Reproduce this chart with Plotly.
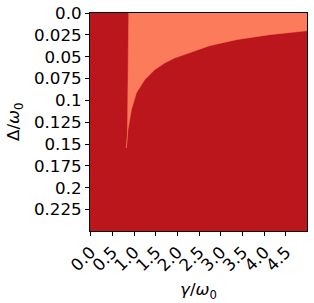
import plotly.graph_objects as go

# Boundary of the light (upper) region: gamma/omega0 vs Delta/omega0
left_edge_gamma = [0.876, 0.868, 0.859, 0.846, 0.822]
left_edge_delta = [0.0, 0.06, 0.1106, 0.141, 0.1526]
cusp_gamma = [0.822]
cusp_delta = [0.1545]
right_edge_gamma = [0.859, 0.938, 1.053, 1.244, 1.475, 1.705, 1.935, 2.281, 2.742, 3.357, 4.124, 4.984, 5.05]
right_edge_delta = [0.1335, 0.1106, 0.0915, 0.0763, 0.0649, 0.0572, 0.0515, 0.0458, 0.0374, 0.0305, 0.0248, 0.0203, 0.0200]
top_edge_gamma = [5.05, 0.876]
top_edge_delta = [-0.002, -0.002]

x_tickvals = [0.0, 0.5, 1.0, 1.5, 2.0, 2.5, 3.0, 3.5, 4.0, 4.5]
x_ticktext = ["0.0", "0.5", "1.0", "1.5", "2.0", "2.5", "3.0", "3.5", "4.0", "4.5"]
y_tickvals = [0.0, 0.025, 0.05, 0.075, 0.1, 0.125, 0.15, 0.175, 0.2, 0.225]
y_ticktext = ["0.0", "0.025", "0.05", "0.075", "0.1", "0.125", "0.15", "0.175", "0.2", "0.225"]

DARK = "#bb161b"
LIGHT = "#fb7b5b"

poly_x = left_edge_gamma + cusp_gamma + right_edge_gamma + top_edge_gamma
poly_y = left_edge_delta + cusp_delta + right_edge_delta + top_edge_delta

fig = go.Figure()
fig.add_trace(go.Scatter(
    x=poly_x, y=poly_y, mode="lines", fill="toself",
    fillcolor=LIGHT, line=dict(color=LIGHT, width=0.5),
    hoverinfo="skip", showlegend=False,
))

font = dict(family="DejaVu Sans", size=16.7, color="black")
fig.update_layout(
    width=314, height=303,
    margin=dict(l=90, r=7, t=13, b=72),
    paper_bgcolor="white", plot_bgcolor=DARK,
    font=font, showlegend=False,
)
fig.update_xaxes(
    range=[-0.016, 4.984], tickvals=x_tickvals, ticktext=x_ticktext,
    tickangle=-45, ticks="outside", ticklen=4, tickcolor="black",
    showline=True, linecolor="black", linewidth=1, mirror=True,
    showgrid=False, zeroline=False, tickfont=font, automargin=False,
)
fig.update_yaxes(
    range=[0.2495, 0.0], tickvals=y_tickvals, ticktext=y_ticktext,
    ticks="outside", ticklen=4, tickcolor="black",
    showline=True, linecolor="black", linewidth=1, mirror=True,
    showgrid=False, zeroline=False, tickfont=font, automargin=False,
)
fig.add_annotation(
    text="<i>γ</i>/<i>ω</i><sub>0</sub>", xref="paper", yref="paper",
    x=0.5, y=0, yshift=-59, xanchor="center", yanchor="middle",
    showarrow=False, font=font,
)
fig.add_annotation(
    text="Δ/<i>ω</i><sub>0</sub>", xref="paper", yref="paper",
    x=0, y=0.5, xshift=-76, xanchor="center", yanchor="middle",
    textangle=-90, showarrow=False, font=font,
)
fig.write_html(
    "out.html",
    config={"displayModeBar": False},
    post_script="document.body.style.margin='0';document.body.style.overflow='hidden';",
)
